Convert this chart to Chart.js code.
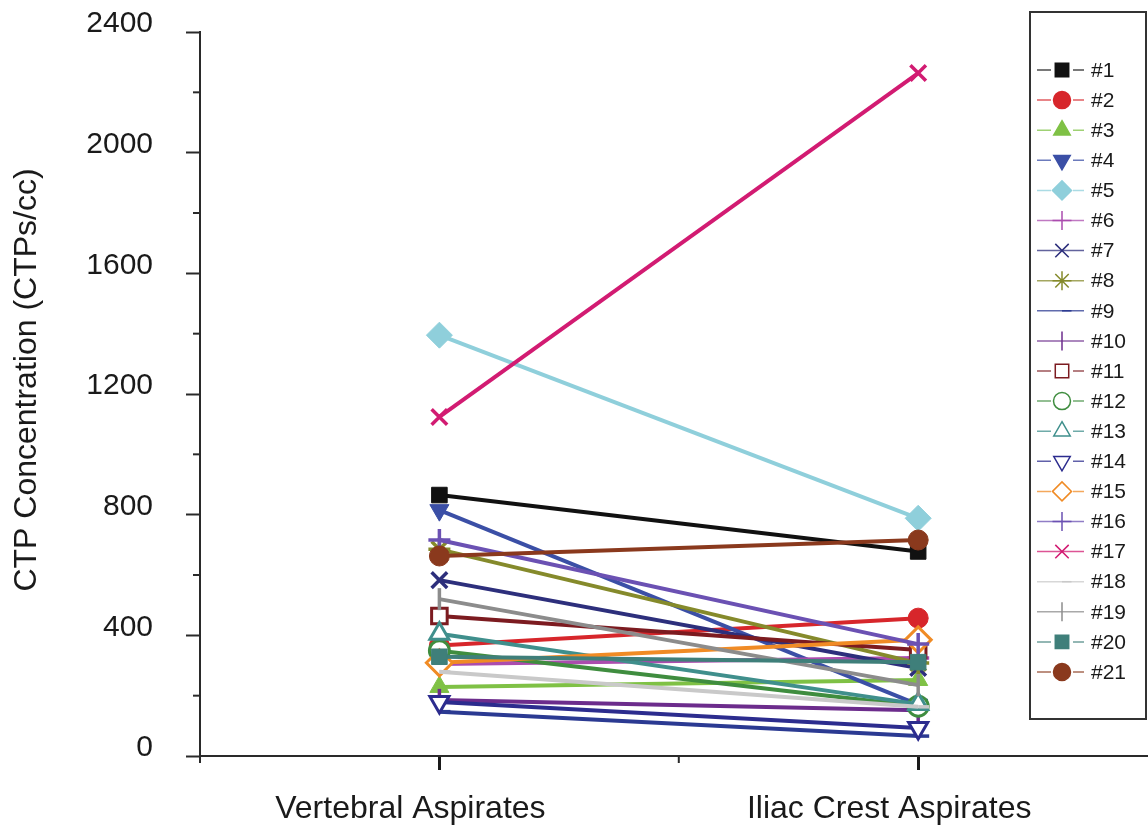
<!DOCTYPE html>
<html>
<head>
<meta charset="utf-8">
<script src="https://cdn.jsdelivr.net/npm/chart.js@4/dist/chart.umd.min.js"></script>
<style>
  html, body { margin: 0; padding: 0; background: #fff; }
  #wrap { width: 1148px; height: 827px; position: relative; }
</style>
</head>
<body>
<div id="wrap"><canvas id="canvas"></canvas></div>
<script>
// categories sit at x = 1 and x = 3 on a 0..4 axis (as in the original)
const categories = ["Vertebral Aspirates", "Iliac Crest Aspirates"];
const categoryPositions = [1, 3];

const patients = ["#1", "#2", "#3", "#4", "#5", "#6", "#7", "#8", "#9", "#10",
  "#11", "#12", "#13", "#14", "#15", "#16", "#17", "#18", "#19", "#20", "#21"];

// CTPs/cc
const vertebral = [865, 366, 229, 815, 1395, 305, 583, 685, 147, 186,
  464, 349, 405, 179, 309, 716, 1124, 279, 520, 329, 663];
const iliac = [678, 457, 252, 170, 788, 325, 292, 308, 66, 152,
  351, 165, 172, 93, 385, 371, 2264, 163, 235, 311, 716];

const colors = ["#111111", "#d7262b", "#7fc145", "#3b4fa6", "#8fcfdb", "#ab4cae",
  "#2d2f7c", "#858a2b", "#2b3a92", "#6c2c8c", "#7c1b20", "#3f8d3f", "#3f8f8c",
  "#2c2c8e", "#f08b25", "#6b51b3", "#d21b72", "#c9c9c9", "#8c8c8c", "#3f7f7a", "#8a391d"];

const pointStyles = ["rect", "circle", "triangle", "triangle", "rectRot", "cross",
  "crossRot", "star", "dash", "line", "rect", "circle", "triangle", "triangle",
  "rectRot", "cross", "crossRot", "dash", "line", "rect", "circle"];
const rotations = [0, 0, 0, 180, 0, 0, 0, 0, 0, 90, 0, 0, 0, 180, 0, 0, 0, 0, 90, 0, 0];
const hollow = [false, false, false, false, false, false, false, false, false, false,
  true, true, true, true, true, false, false, false, false, false, false];

const yTicks = { min: 0, max: 2400, step: 200, labelStep: 400 };
const yTitle = "CTP Concentration (CTPs/cc)";

const font = "'Liberation Sans', Arial, sans-serif";

const radiusFor = (style) => style === "circle" ? 10 : style === "rectRot" ? 13 : 11;

const datasets = patients.map((label, i) => ({
  label,
  data: [
    { x: categoryPositions[0], y: vertebral[i] },
    { x: categoryPositions[1], y: iliac[i] },
  ],
  borderColor: colors[i],
  backgroundColor: hollow[i] ? "#ffffff" : colors[i],
  pointBorderColor: colors[i],
  pointBackgroundColor: hollow[i] ? "#ffffff" : colors[i],
  borderWidth: 4,
  pointStyle: pointStyles[i],
  rotation: rotations[i],
  pointRadius: radiusFor(pointStyles[i]),
  pointBorderWidth: hollow[i] ? 3 : (["cross", "crossRot", "star", "dash", "line"].includes(pointStyles[i]) ? 3.5 : 1),
  order: patients.length - i,
}));

// short minor ticks, y title and the boxed legend on the right
const decorations = {
  id: "decorations",
  afterDraw(chart) {
    const ctx = chart.ctx;
    const x = chart.scales.x, y = chart.scales.y;
    ctx.save();
    ctx.strokeStyle = "#2a2a2a";
    ctx.lineWidth = 2;
    for (let v = yTicks.min; v <= yTicks.max; v += yTicks.step) {
      if (v % yTicks.labelStep === 0) continue;
      const py = y.getPixelForValue(v);
      ctx.beginPath(); ctx.moveTo(x.left - 7, py); ctx.lineTo(x.left, py); ctx.stroke();
    }
    [0, 2].forEach((v) => {
      const px = x.getPixelForValue(v);
      ctx.beginPath(); ctx.moveTo(px, y.bottom); ctx.lineTo(px, y.bottom + 7); ctx.stroke();
    });

    // y title
    ctx.save();
    ctx.translate(27, 380);
    ctx.rotate(-Math.PI / 2);
    ctx.fillStyle = "#1a1a1a";
    ctx.font = "32px " + font;
    ctx.textAlign = "center";
    ctx.textBaseline = "middle";
    ctx.fillText(yTitle, 0, 0);
    ctx.restore();

    // legend
    const bx = 1030, by = 12, bw = 116, bh = 707;
    ctx.fillStyle = "#fff";
    ctx.fillRect(bx, by, bw, bh);
    ctx.strokeStyle = "#333";
    ctx.lineWidth = 2;
    ctx.strokeRect(bx, by, bw, bh);
    ctx.font = "21px " + font;
    ctx.textBaseline = "middle";
    chart.data.datasets.forEach((ds, i) => {
      const ry = 70 + i * 30.1;
      ctx.globalAlpha = 0.75;
      ctx.strokeStyle = ds.borderColor;
      ctx.lineWidth = 1.5;
      ctx.beginPath(); ctx.moveTo(1037, ry); ctx.lineTo(1084, ry); ctx.stroke();
      ctx.globalAlpha = 1;
      ctx.fillStyle = "#fff";
      if (["rect", "circle", "triangle", "rectRot"].includes(ds.pointStyle)) {
        ctx.fillRect(1051, ry - 9, 22, 18);
      }
      ctx.fillStyle = ds.pointBackgroundColor;
      ctx.strokeStyle = ds.pointBorderColor;
      Chart.helpers.drawPoint(ctx, {
        pointStyle: ds.pointStyle,
        rotation: ds.rotation,
        radius: ds.pointStyle === "circle" ? 8.5 : 9.5,
        borderWidth: 2,
      }, 1062, ry);
      ctx.fillStyle = "#1a1a1a";
      ctx.textAlign = "left";
      ctx.fillText(ds.label, 1091, ry + 1);
    });
    ctx.restore();
  },
};

new Chart(document.getElementById("canvas").getContext("2d"), {
  type: "line",
  data: { datasets },
  options: {
    responsive: true,
    maintainAspectRatio: false,
    animation: false,
    layout: { autoPadding: false, padding: { top: 32, right: 0, bottom: 0, left: 0 } },
    plugins: { legend: { display: false }, tooltip: { enabled: false } },
    elements: { line: { tension: 0 } },
    scales: {
      x: {
        type: "linear",
        min: 0,
        max: 3.96,
        afterFit: (s) => { s.height = 71; s.paddingLeft = 0; s.paddingRight = 0; },
        border: { color: "#2a2a2a", width: 2 },
        grid: {
          drawOnChartArea: false,
          tickLength: 14,
          tickWidth: 3,
          tickColor: (c) => categoryPositions.includes(c.tick.value) ? "#1a1a1a" : "rgba(0,0,0,0)",
        },
        afterBuildTicks: (s) => { s.ticks = [0, 1, 2, 3].map((v) => ({ value: v })); },
        ticks: {
          autoSkip: false,
          maxRotation: 0,
          padding: 20,
          labelOffset: -29,
          color: "#1a1a1a",
          font: { family: font, size: 32 },
          callback: (v) => {
            const k = categoryPositions.indexOf(v);
            return k >= 0 ? categories[k] : "";
          },
        },
      },
      y: {
        min: yTicks.min,
        max: yTicks.max,
        afterFit: (s) => { s.width = 200; s.paddingTop = 0; s.paddingBottom = 0; },
        border: { color: "#2a2a2a", width: 2 },
        grid: {
          drawOnChartArea: false,
          tickLength: 14,
          tickWidth: 2,
          tickColor: (c) => c.tick.value % yTicks.labelStep === 0 ? "#2a2a2a" : "rgba(0,0,0,0)",
        },
        ticks: {
          stepSize: yTicks.step,
          padding: 33,
          labelOffset: -8,
          color: "#1a1a1a",
          font: { family: font, size: 30 },
          callback: (v) => v % yTicks.labelStep === 0 ? String(v) : "",
        },
      },
    },
  },
  plugins: [decorations],
});
</script>
</body>
</html>
